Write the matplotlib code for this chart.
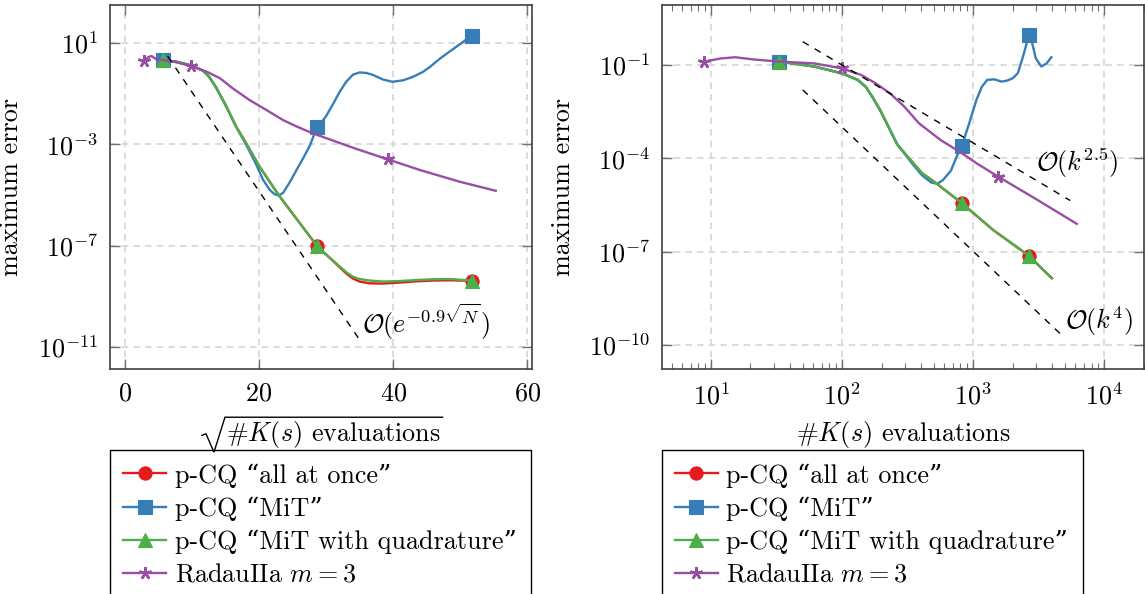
import numpy as np
import matplotlib
matplotlib.use("Agg")
import matplotlib.pyplot as plt
from matplotlib.lines import Line2D
from matplotlib.ticker import FixedLocator, NullLocator, LogLocator, LogFormatterMathtext

plt.rcParams.update({
    "font.family": ["cmr10", "DejaVu Serif"],
    "mathtext.fontset": "cm",
    "axes.formatter.use_mathtext": True,
    "font.size": 18.8,
})

# ---- left panel: x = sqrt(#K(s) evaluations), y = log10(max error)
l_red_x = [5.66, 7.7, 9.7, 10.9, 11.65, 12.6, 13.65, 15.15, 16.6, 18.1, 20.1, 23.0, 26.1,
           28.7, 30.0, 31.5, 33.0, 34.0, 35.0, 36.5, 38.5, 41.0, 43.5, 46.0, 48.4, 51.7]
l_red_y = [0.33, 0.25, 0.12, -0.01, -0.10, -0.35, -0.78, -1.52, -2.31, -2.97, -3.89, -5.03, -6.12,
           -7.03, -7.35, -7.72, -8.10, -8.30, -8.42, -8.49, -8.50, -8.46, -8.41, -8.38, -8.37, -8.39]
l_green_x = l_red_x
l_green_y = [0.33, 0.25, 0.12, -0.01, -0.10, -0.35, -0.78, -1.52, -2.31, -2.97, -3.89, -5.03, -6.12,
             -7.03, -7.35, -7.70, -8.05, -8.23, -8.32, -8.38, -8.42, -8.40, -8.36, -8.33, -8.32, -8.38]
l_blue_x = [5.66, 7.7, 9.7, 10.9, 11.65, 12.6, 13.65, 15.15, 16.6, 18.1, 19.5, 20.6, 21.6, 22.3,
            22.95, 23.6, 24.6, 25.6, 26.6, 27.6, 28.2, 28.7, 30.0, 31.1, 32.0, 33.0, 34.0, 35.0,
            36.0, 37.0, 38.5, 39.9, 41.5, 43.0, 44.5, 45.5, 47.0, 48.4, 50.0, 51.7]
l_blue_y = [0.33, 0.25, 0.12, -0.01, -0.10, -0.35, -0.78, -1.52, -2.31, -3.02, -3.75, -4.40, -4.80, -4.97,
            -5.03, -4.92, -4.50, -4.02, -3.55, -3.05, -2.64, -2.34, -1.90, -1.39, -0.95, -0.54, -0.26, -0.17,
            -0.19, -0.27, -0.45, -0.54, -0.48, -0.34, -0.14, 0.05, 0.38, 0.65, 0.95, 1.28]
l_radau_x = [2.93, 3.5, 3.97, 4.7, 5.66, 7.7, 9.94, 12.2, 14.2, 16.1, 18.6, 21.1, 23.6, 25.6,
             28.1, 29.06, 34.0, 39.2, 44.0, 49.9, 55.3]
l_radau_y = [0.29, 0.43, 0.48, 0.35, 0.32, 0.23, 0.08, -0.14, -0.40, -0.80, -1.26, -1.65, -2.05, -2.30,
             -2.58, -2.67, -3.14, -3.60, -4.02, -4.48, -4.84]
l_cq_marks = [5.66, 28.7, 51.7]
l_radau_marks = [2.93, 9.94, 39.2]
l_order_x = [6.4, 34.8]
l_order_y = [0.47, -10.64]

# ---- right panel: log10(#K(s) evaluations), log10(max error)
r_red_x = [1.52, 1.79, 2.0, 2.12, 2.18, 2.23, 2.29, 2.34, 2.42, 2.50, 2.61, 2.72, 2.915, 3.153,
           3.426, 3.50, 3.60]
r_red_y = [-0.89, -1.05, -1.27, -1.48, -1.70, -2.02, -2.45, -2.87, -3.55, -3.95, -4.48, -4.81, -5.45,
           -6.31, -7.14, -7.45, -7.86]
r_green_x = r_red_x
r_green_y = r_red_y
r_blue_x = [1.52, 1.79, 2.0, 2.12, 2.18, 2.23, 2.29, 2.34, 2.42, 2.47, 2.54, 2.61, 2.68, 2.726, 2.77,
            2.83, 2.874, 2.915, 2.97, 3.025, 3.066, 3.107, 3.16, 3.217, 3.26, 3.30, 3.34, 3.38, 3.426,
            3.45, 3.478, 3.52, 3.56, 3.596]
r_blue_y = [-0.89, -1.05, -1.27, -1.48, -1.70, -2.02, -2.45, -2.87, -3.55, -3.82, -4.20, -4.55, -4.78,
            -4.82, -4.70, -4.40, -3.95, -3.59, -2.87, -2.12, -1.70, -1.48, -1.46, -1.535, -1.50, -1.43,
            -1.27, -0.73, -0.03, -0.30, -0.79, -1.05, -0.95, -0.75]
r_radau_x = [0.95, 1.074, 1.184, 1.32, 1.52, 1.79, 2.0, 2.146, 2.256, 2.365, 2.475, 2.585, 2.75,
             2.915, 3.025, 3.19, 3.49, 3.79]
r_radau_y = [-0.89, -0.79, -0.75, -0.82, -0.89, -0.95, -1.11, -1.32, -1.59, -1.91, -2.34, -2.87, -3.41,
             -3.84, -4.16, -4.59, -5.34, -6.11]
r_cq_marks = [1.52, 2.915, 3.426]
r_radau_marks = [0.95, 2.0, 3.19]
r_k25_x = [1.70, 3.74]
r_k25_y = [-0.25, -5.36]
r_k4_x = [1.70, 3.685]
r_k4_y = [-1.80, -9.73]

labels = ["p-CQ “all at once”", "p-CQ “MiT”", "p-CQ “MiT with quadrature”", "RadauIIa $m = 3$"]
colors = ["#e41a1c", "#377eb8", "#4daf4a", "#984ea3"]
markers = ["o", "s", "^", (5, 2, 0)]
msizes = [9.5, 9.5, 10, 9]


def pow10(a):
    return 10.0 ** np.asarray(a)


def curve(ax, x, y, i, marks):
    idx = [int(np.argmin(np.abs(np.asarray(x) - m))) for m in marks]
    return ax.plot(x, pow10(y), color=colors[i], lw=1.7, marker=markers[i], ms=msizes[i],
                   mew=1.8 if i == 3 else 0.8, markevery=idx, label=labels[i])[0]


def style(ax):
    ax.set_yscale("log")
    ax.set_axisbelow(True)
    ax.grid(True, which="major", ls=(0, (4, 3)), color="#d6d6d6", lw=1.2)
    for s in ax.spines.values():
        s.set_color("#404040")
        s.set_linewidth(1.2)
    ax.tick_params(which="both", direction="in", top=True, right=True, color="#707070")
    ax.tick_params(which="major", length=7, width=1)
    ax.tick_params(which="minor", length=4.5, width=0.8)
    ax.tick_params(axis="x", pad=9.5)
    ax.tick_params(axis="y", pad=8.5)
    ax.yaxis.set_minor_locator(NullLocator())
    ax.yaxis.set_major_formatter(LogFormatterMathtext())


fig = plt.figure(figsize=(11.45, 5.94), dpi=100)
W, H = 1145, 594
axL = fig.add_axes([110 / W, 1 - 369 / H, 422 / W, 364 / H])
axR = fig.add_axes([661.7 / W, 1 - 369 / H, 482.3 / W, 364 / H])

# left
hL = []
hL.append(curve(axL, l_red_x, l_red_y, 0, l_cq_marks))
hL.append(curve(axL, l_blue_x, l_blue_y, 1, l_cq_marks))
hL.append(curve(axL, l_green_x, l_green_y, 2, l_cq_marks))
hL.append(curve(axL, l_radau_x, l_radau_y, 3, l_radau_marks))
axL.plot(l_order_x, pow10(l_order_y), color="black", lw=1.0, ls=(0, (5, 5)))
axL.text(35.3, 10 ** -10.0, r"$\mathcal{O}(e^{-0.9\sqrt{N}})$", ha="left", va="center")
style(axL)
axL.set_xlim(-2.2, 60.7)
axL.set_ylim(10 ** -11.87, 10 ** 2.49)
axL.xaxis.set_major_locator(FixedLocator([0, 20, 40, 60]))
axL.yaxis.set_major_locator(FixedLocator([1e1, 1e-3, 1e-7, 1e-11]))
axL.set_ylabel("maximum error")
axL.yaxis.set_label_coords(-0.206, 0.5)
# mathtext has no '#', so the radical is drawn by hand around a plain label
xlab = axL.set_xlabel(r"#$K(s)$ evaluations")
axL.xaxis.set_label_coords(0.529, -0.138)

# right
hR = []
hR.append(curve(axR, pow10(r_red_x), r_red_y, 0, pow10(r_cq_marks)))
hR.append(curve(axR, pow10(r_blue_x), r_blue_y, 1, pow10(r_cq_marks)))
hR.append(curve(axR, pow10(r_green_x), r_green_y, 2, pow10(r_cq_marks)))
hR.append(curve(axR, pow10(r_radau_x), r_radau_y, 3, pow10(r_radau_marks)))
axR.plot(pow10(r_k25_x), pow10(r_k25_y), color="black", lw=1.0, ls=(0, (5, 5)))
axR.plot(pow10(r_k4_x), pow10(r_k4_y), color="black", lw=1.0, ls=(0, (5, 5)))
axR.text(10 ** 3.478, 10 ** -4.16, r"$\mathcal{O}(k^{2.5})$", ha="left", va="center")
axR.text(10 ** 3.698, 10 ** -9.24, r"$\mathcal{O}(k^{4})$", ha="left", va="center")
axR.set_xscale("log")
style(axR)
axR.set_xlim(10 ** 0.624, 10 ** 4.303)
axR.set_ylim(10 ** -10.78, 10 ** 0.93)
axR.xaxis.set_major_locator(FixedLocator([1e1, 1e2, 1e3, 1e4]))
axR.xaxis.set_minor_locator(LogLocator(base=10, subs=np.arange(2, 10), numticks=20))
axR.xaxis.set_major_formatter(LogFormatterMathtext())
axR.yaxis.set_major_locator(FixedLocator([1e-1, 1e-4, 1e-7, 1e-10]))
axR.set_ylabel("maximum error")
axR.yaxis.set_label_coords(-0.18, 0.5)
axR.set_xlabel(r"#$K(s)$ evaluations")
axR.xaxis.set_label_coords(0.5, -0.138)

for ax, h, w in [(axL, hL, 421 / 422), (axR, hR, 421.5 / 482.3)]:
    leg = ax.legend(h, labels, loc="upper left", bbox_to_anchor=(0, -0.55, w, 0.3275),
                    mode="expand", borderaxespad=0, fancybox=False, framealpha=1,
                    edgecolor="black", handlelength=1.65, handletextpad=0.33,
                    labelspacing=0.34, borderpad=0.5, numpoints=1)
    leg.get_frame().set_linewidth(1.0)

# square-root sign over the left x label
fig.canvas.draw()
bb = xlab.get_window_extent()
top = bb.y1 + 2
px = [bb.x0 - 24, bb.x0 - 20, bb.x0 - 12, bb.x0 - 1, bb.x1 + 2]
py = [bb.y0 + 0.45 * (top - bb.y0), bb.y0 + 0.5 * (top - bb.y0), bb.y0 - 2, top, top]
fig.add_artist(Line2D(np.array(px) / W, np.array(py) / H, transform=fig.transFigure,
                      color="black", lw=1.0, solid_joinstyle="miter"))

fig.savefig("out.png", dpi=100)
